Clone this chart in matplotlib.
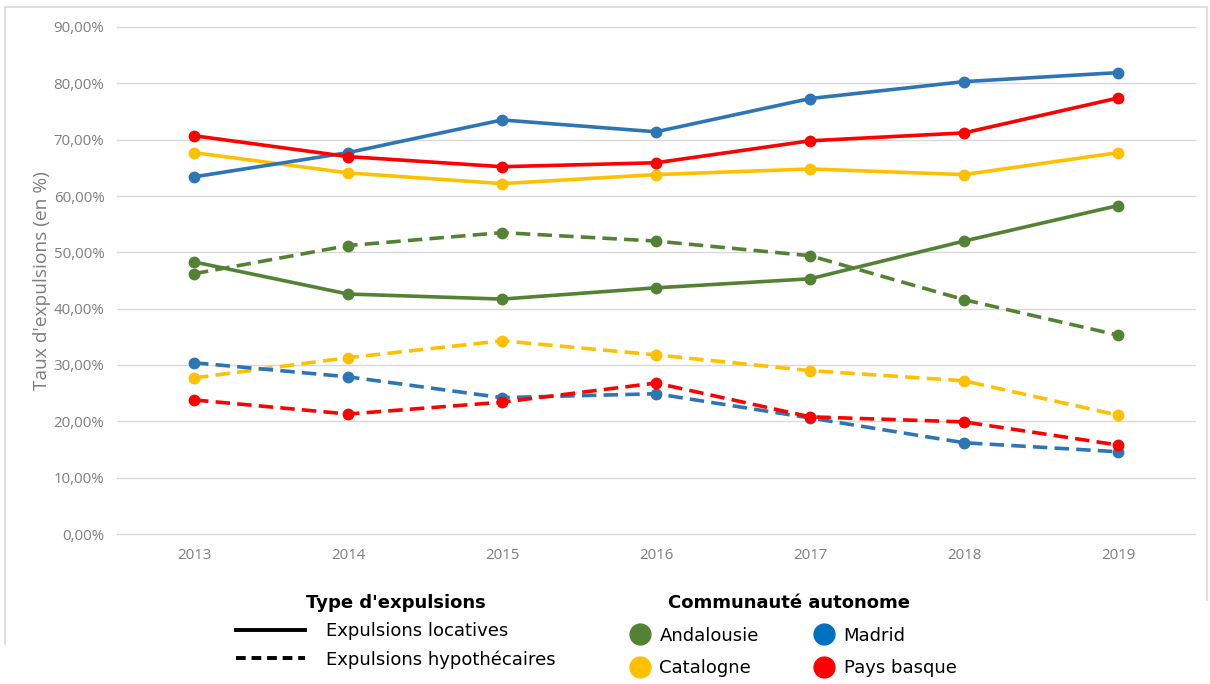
import matplotlib.pyplot as plt
from matplotlib.lines import Line2D
from matplotlib.ticker import FuncFormatter

years = [2013, 2014, 2015, 2016, 2017, 2018, 2019]

# taux d'expulsions locatives (%)
loc_andalousie = [48.3, 42.6, 41.7, 43.7, 45.3, 52.0, 58.3]
loc_catalogne = [67.7, 64.1, 62.2, 63.8, 64.8, 63.8, 67.7]
loc_madrid = [63.4, 67.7, 73.5, 71.4, 77.3, 80.3, 81.9]
loc_pays_basque = [70.7, 67.0, 65.2, 65.9, 69.8, 71.2, 77.4]

# taux d'expulsions hypothecaires (%)
hyp_andalousie = [46.2, 51.2, 53.5, 52.0, 49.4, 41.6, 35.3]
hyp_catalogne = [27.7, 31.3, 34.3, 31.8, 29.0, 27.2, 21.1]
hyp_madrid = [30.4, 27.9, 24.2, 24.9, 20.6, 16.2, 14.6]
hyp_pays_basque = [23.8, 21.3, 23.4, 26.8, 20.8, 19.9, 15.8]

regions = ['Andalousie', 'Catalogne', 'Madrid', 'Pays basque']
colors = ['#548235', '#FFC000', '#2E75B6', '#FF0000']
legend_colors = ['#548235', '#FFC000', '#0070C0', '#FF0000']
loc_series = [loc_andalousie, loc_catalogne, loc_madrid, loc_pays_basque]
hyp_series = [hyp_andalousie, hyp_catalogne, hyp_madrid, hyp_pays_basque]

W, H = 1210, 684
fig = plt.figure(figsize=(W / 100, H / 100), dpi=100)

# light chart-area border (left, top, right)
frame_x = [5 / W, 5 / W, 1207 / W, 1207 / W]
frame_y = [1 - 644 / H, 1 - 7 / H, 1 - 7 / H, 1 - 600 / H]
fig.add_artist(Line2D(frame_x, frame_y, color='#D9D9D9', lw=1.2))

ax = fig.add_axes([117 / W, 1 - 534 / H, 1078 / W, 507 / H])

for vals, c in zip(hyp_series, colors):
    ax.plot(years, vals, color=c, lw=2.6, dashes=(4, 2), marker='o', ms=7.5,
            zorder=3)
for vals, c in zip(loc_series, colors):
    ax.plot(years, vals, color=c, lw=2.6, marker='o', ms=7.5, zorder=4)

ax.set_xlim(2012.5, 2019.5)
ax.set_ylim(0, 90)
ax.set_xticks(years)
ax.set_yticks(range(0, 91, 10))
ax.yaxis.set_major_formatter(FuncFormatter(lambda v, p: f'{v:.2f}%'.replace('.', ',')))
ax.grid(axis='y', color='#D9D9D9', lw=1)
for gl in ax.get_ygridlines():
    gl.set_clip_on(False)
ax.set_axisbelow(True)
for s in ax.spines.values():
    s.set_visible(False)
ax.tick_params(length=0, labelsize=10.8, labelcolor='#7F7F7F')
ax.tick_params(axis='x', pad=10)
ax.tick_params(axis='y', pad=9)
for lab in ax.get_xticklabels() + ax.get_yticklabels():
    lab.set_fontfamily('Open Sans')
ax.set_ylabel("Taux d'expulsions (en %)", fontsize=13.8, color='#7F7F7F',
              fontfamily='Open Sans', labelpad=2)

type_handles = [Line2D([], [], color='black', lw=2.8),
                Line2D([], [], color='black', lw=2.8, dashes=(2.5, 1.5))]
leg1 = fig.legend(type_handles, ['Expulsions locatives', 'Expulsions hypothécaires'],
                  loc='upper center', bbox_to_anchor=(396 / W, 1 - 578 / H),
                  frameon=False, fontsize=13, title="Type d'expulsions",
                  title_fontproperties={'weight': 'bold', 'size': 13},
                  handlelength=3.8, handletextpad=1.2, labelspacing=0.55)

reg_handles = [Line2D([], [], ls='none', marker='o', ms=15, color=c) for c in legend_colors]
leg2 = fig.legend(reg_handles, regions,
                  loc='upper center', bbox_to_anchor=(789 / W, 1 - 578 / H),
                  ncol=2, frameon=False, fontsize=13, title='Communauté autonome',
                  title_fontproperties={'weight': 'bold', 'size': 13},
                  handletextpad=0.1, columnspacing=2.6, labelspacing=0.8)

fig.savefig('out.png', dpi=100)
